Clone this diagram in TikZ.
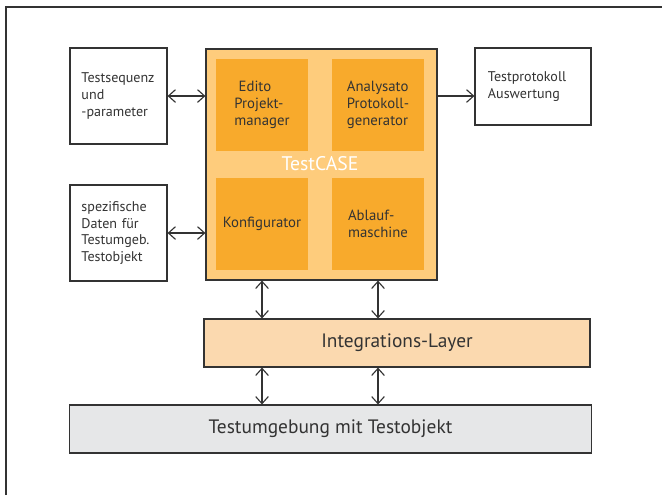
\documentclass[tikz,border=0pt]{standalone}
\usepackage{fontspec}
\setmainfont{PT Sans}
\usetikzlibrary{positioning,arrows.meta}

\definecolor{casefill}{HTML}{FECC7C}
\definecolor{blockfill}{HTML}{F8AA2C}
\definecolor{layerfill}{HTML}{FBD9AF}
\definecolor{envfill}{HTML}{E6E7E8}
\definecolor{linegray}{HTML}{333333}

\begin{document}
\begin{tikzpicture}[x=0.025cm, y=-0.025cm,
  box/.style={draw=linegray, line width=0.8pt, fill=white, inner sep=0pt, align=left, font=\fontsize{10}{12}\selectfont, text=linegray},
  block/.style={fill=blockfill, inner sep=0pt, minimum width=2.3cm, minimum height=2.3cm, align=left, font=\fontsize{10.5}{12.2}\selectfont, text=linegray},
  layer/.style={draw=linegray, line width=0.8pt, minimum height=1.2cm, font=\fontsize{13.8}{16}\selectfont, text=linegray},
  link/.style={draw=linegray, line width=0.8pt, {Straight Barb[length=5pt,width=9pt]}-{Straight Barb[length=5pt,width=9pt]}}]
\useasboundingbox (0,0) rectangle (662,495);
\draw[linegray, line width=0.8pt] (6,495) -- (6,7) -- (662,7);

\node[box, minimum width=2.425cm, minimum height=2.4cm, text width=1.85cm] (seq) at (118.5,96) {Testsequenz\\und\\-parameter};
\node[box, minimum width=2.425cm, minimum height=2.4cm, text width=1.85cm] (daten) at (118.5,233) {spezifische\\Daten für\\Testumgeb.\\Testobjekt};
\node[box, minimum width=2.9cm, minimum height=1.925cm, text width=2.25cm] (protokoll) at (533,86.5) {Testprotokoll\\Auswertung};

\node[draw=linegray, line width=0.8pt, fill=casefill, minimum width=5.775cm, minimum height=5.775cm] (testcase) at (321.5,164.5) {};
\node[block] (edito) at (262,105) {\hspace{3pt}Edito\\Projekt-\\manager};
\node[block] (analysato) at (378,105) {Analysato\\Protokoll-\\generator};
\node[block] (konfig) at (262,224) {Konfigurator};
\node[block] (ablauf) at (378,224) {Ablauf-\\maschine};
\node[text=white, font=\fontsize{14}{16}\selectfont] (label) at (320,164) {TestCASE};

\node[layer, fill=layerfill, minimum width=9.65cm] (layer) at (397,343) {Integrations-Layer};
\node[layer, fill=envfill, minimum width=13.025cm] (umgebung) at (330.5,429) {Testumgebung mit Testobjekt};

\draw[link] (seq.east) -- (seq.east -| testcase.west);
\draw[link] (daten.east) -- (daten.east -| testcase.west);
\draw[link, {-Straight Barb[length=5pt,width=9pt]}] (testcase.east |- seq.east) -- (protokoll.west |- seq.east);
\draw[link] (edito.south |- testcase.south) -- (edito.south |- layer.north);
\draw[link] (analysato.south |- testcase.south) -- (analysato.south |- layer.north);
\draw[link] (edito.south |- layer.south) -- (edito.south |- umgebung.north);
\draw[link] (analysato.south |- layer.south) -- (analysato.south |- umgebung.north);
\end{tikzpicture}
\end{document}
